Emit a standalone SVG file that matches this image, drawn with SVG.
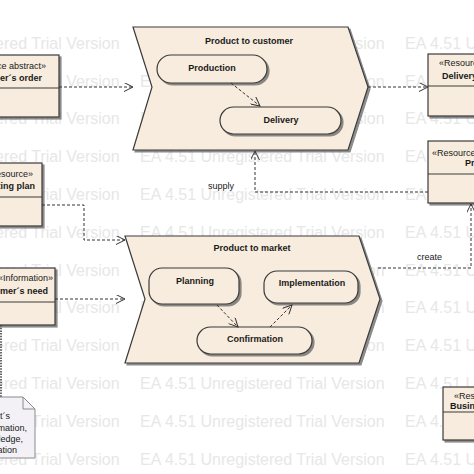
<svg xmlns="http://www.w3.org/2000/svg" width="474" height="474" viewBox="0 0 474 474">
<style>
.wm{font-family:"Liberation Sans",Arial,sans-serif;font-size:16px;fill:#e7e7e7}
.node{fill:#f7ecdd;stroke:#3a3a3a;stroke-width:1.2}
.note{fill:#f3f1f6;stroke:#8a8a8a;stroke-width:1}
.t{font-family:"Liberation Sans",Arial,sans-serif;font-size:9px;fill:#1a1a1a}
.b{font-weight:bold}
.c{text-anchor:middle}
.e{text-anchor:end}
.con{fill:none;stroke:#333;stroke-width:1;stroke-dasharray:3,2}
.dot{fill:none;stroke:#444;stroke-width:1.6;stroke-dasharray:1.5,1.2}
</style>
<defs>
<filter id="sh" x="-10%" y="-10%" width="130%" height="130%">
<feDropShadow dx="2" dy="2" stdDeviation="0.5" flood-color="#666" flood-opacity="0.75"/>
</filter>
<marker id="arr" viewBox="0 0 10 10" refX="10" refY="5" markerWidth="11" markerHeight="9" orient="auto" markerUnits="userSpaceOnUse">
<path d="M0,0 L10,5 L0,10" fill="none" stroke="#333" stroke-width="1.1"/>
</marker>
</defs>
<rect width="474" height="474" fill="#fff"/>
<g id="watermark" class="wm">
<text x="-125" y="49">EA 4.51 Unregistered Trial Version</text><text x="140" y="49">EA 4.51 Unregistered Trial Version</text><text x="405" y="49">EA 4.51 Unregistered Trial Version</text>
<text x="-125" y="87">EA 4.51 Unregistered Trial Version</text><text x="140" y="87">EA 4.51 Unregistered Trial Version</text><text x="405" y="87">EA 4.51 Unregistered Trial Version</text>
<text x="-125" y="124">EA 4.51 Unregistered Trial Version</text><text x="140" y="124">EA 4.51 Unregistered Trial Version</text><text x="405" y="124">EA 4.51 Unregistered Trial Version</text>
<text x="-125" y="162">EA 4.51 Unregistered Trial Version</text><text x="140" y="162">EA 4.51 Unregistered Trial Version</text><text x="405" y="162">EA 4.51 Unregistered Trial Version</text>
<text x="-125" y="200">EA 4.51 Unregistered Trial Version</text><text x="140" y="200">EA 4.51 Unregistered Trial Version</text><text x="405" y="200">EA 4.51 Unregistered Trial Version</text>
<text x="-125" y="238">EA 4.51 Unregistered Trial Version</text><text x="140" y="238">EA 4.51 Unregistered Trial Version</text><text x="405" y="238">EA 4.51 Unregistered Trial Version</text>
<text x="-125" y="276">EA 4.51 Unregistered Trial Version</text><text x="140" y="276">EA 4.51 Unregistered Trial Version</text><text x="405" y="276">EA 4.51 Unregistered Trial Version</text>
<text x="-125" y="313">EA 4.51 Unregistered Trial Version</text><text x="140" y="313">EA 4.51 Unregistered Trial Version</text><text x="405" y="313">EA 4.51 Unregistered Trial Version</text>
<text x="-125" y="351">EA 4.51 Unregistered Trial Version</text><text x="140" y="351">EA 4.51 Unregistered Trial Version</text><text x="405" y="351">EA 4.51 Unregistered Trial Version</text>
<text x="-125" y="389">EA 4.51 Unregistered Trial Version</text><text x="140" y="389">EA 4.51 Unregistered Trial Version</text><text x="405" y="389">EA 4.51 Unregistered Trial Version</text>
<text x="-125" y="427">EA 4.51 Unregistered Trial Version</text><text x="140" y="427">EA 4.51 Unregistered Trial Version</text><text x="405" y="427">EA 4.51 Unregistered Trial Version</text>
<text x="-125" y="465">EA 4.51 Unregistered Trial Version</text><text x="140" y="465">EA 4.51 Unregistered Trial Version</text><text x="405" y="465">EA 4.51 Unregistered Trial Version</text>
</g>

<g id="product-to-customer">
<path class="node" filter="url(#sh)" d="M133,27 L348,27 L368,87 L348,150 L133,150 L152,87 Z"/>
<text class="t b c" x="249" y="44">Product to customer</text>
</g>
<g id="production">
<rect class="node" filter="url(#sh)" x="157" y="55" width="110" height="28" rx="14"/>
<text class="t b c" x="212" y="71">Production</text>
</g>
<g id="delivery">
<rect class="node" filter="url(#sh)" x="220" y="107" width="121" height="27" rx="13.5"/>
<text class="t b c" x="281" y="123">Delivery</text>
</g>

<g id="product-to-market">
<path class="node" filter="url(#sh)" d="M125,236 L359,236 L380,299 L359,363 L125,363 L145,299 Z"/>
<text class="t b c" x="252" y="251">Product to market</text>
</g>
<g id="planning">
<rect class="node" filter="url(#sh)" x="149" y="268" width="90" height="36" rx="13"/>
<text class="t b c" x="195" y="284">Planning</text>
</g>
<g id="implementation">
<rect class="node" filter="url(#sh)" x="264" y="271" width="94" height="32" rx="13"/>
<text class="t b c" x="312" y="286">Implementation</text>
</g>
<g id="confirmation">
<rect class="node" filter="url(#sh)" x="197" y="327" width="115" height="27" rx="13.5"/>
<text class="t b c" x="255" y="342">Confirmation</text>
</g>

<g id="customers-order">
<rect class="node" filter="url(#sh)" x="-60" y="55" width="119" height="62"/>
<line x1="-60" y1="88" x2="59" y2="88" stroke="#3a3a3a" stroke-width="1.2"/>
<text class="t e" x="46" y="69">«Resource abstract»</text>
<text class="t b e" x="42" y="81">Customer´s order</text>
</g>
<g id="marketing-plan">
<rect class="node" filter="url(#sh)" x="-60" y="163" width="102" height="63"/>
<line x1="-60" y1="197" x2="42" y2="197" stroke="#3a3a3a" stroke-width="1.2"/>
<text class="t e" x="33" y="177">«Resource»</text>
<text class="t b e" x="35" y="189">Marketing plan</text>
</g>
<g id="customers-need">
<rect class="node" filter="url(#sh)" x="-60" y="268" width="115" height="57"/>
<line x1="-60" y1="302" x2="55" y2="302" stroke="#3a3a3a" stroke-width="1.2"/>
<text class="t e" x="53" y="281">«Information»</text>
<text class="t b e" x="48" y="294">Customer´s need</text>
</g>
<g id="delivery-resource">
<rect class="node" filter="url(#sh)" x="428" y="54" width="100" height="62"/>
<line x1="428" y1="86" x2="528" y2="86" stroke="#3a3a3a" stroke-width="1.2"/>
<text class="t" x="439" y="66">«Resource»</text>
<text class="t b" x="442" y="79">Delivery</text>
</g>
<g id="product-resource">
<rect class="node" filter="url(#sh)" x="428" y="141" width="100" height="62"/>
<line x1="428" y1="174" x2="528" y2="174" stroke="#3a3a3a" stroke-width="1.2"/>
<text class="t" x="432" y="156">«Resource»</text>
<text class="t b" x="465" y="166">Product</text>
</g>
<g id="business-resource">
<rect class="node" filter="url(#sh)" x="443" y="387" width="90" height="53"/>
<line x1="443" y1="412" x2="533" y2="412" stroke="#3a3a3a" stroke-width="1.2"/>
<text class="t" x="454" y="399">«Resource»</text>
<text class="t b" x="450" y="409">Business</text>
</g>
<g id="note">
<path class="note" d="M-40,397 L23,397 L35,409 L35,458 L-40,458 Z"/>
<path d="M23,397 L23,409 L35,409" fill="none" stroke="#8a8a8a" stroke-width="1"/>
<text class="t e" x="10" y="419">Client´s</text>
<text class="t e" x="27" y="431">information,</text>
<text class="t e" x="23" y="442">knowledge,</text>
<text class="t e" x="17" y="453">expectation</text>
</g>

<g id="connectors">
<path class="con" d="M59,87 L133,87" marker-end="url(#arr)"/>
<path class="con" d="M231,83 L260,106" marker-end="url(#arr)"/>
<path class="con" d="M368,87 L428,87" marker-end="url(#arr)"/>
<path class="con" d="M428,192 L255,192 L255,151" marker-end="url(#arr)"/>
<path class="con" d="M42,205 L84,205 L84,240 L125,240" marker-end="url(#arr)"/>
<path class="con" d="M55,299 L125,299" marker-end="url(#arr)"/>
<path class="con" d="M217,305 L238,327" marker-end="url(#arr)"/>
<path class="con" d="M270,327 L292,305" marker-end="url(#arr)"/>
<path class="con" d="M378,268 L471,268 L471,204" marker-end="url(#arr)"/>
<path class="dot" d="M1,325 L1,397"/>
<text class="t" x="208" y="189">supply</text>
<text class="t" x="417" y="260">create</text>
</g>
</svg>
